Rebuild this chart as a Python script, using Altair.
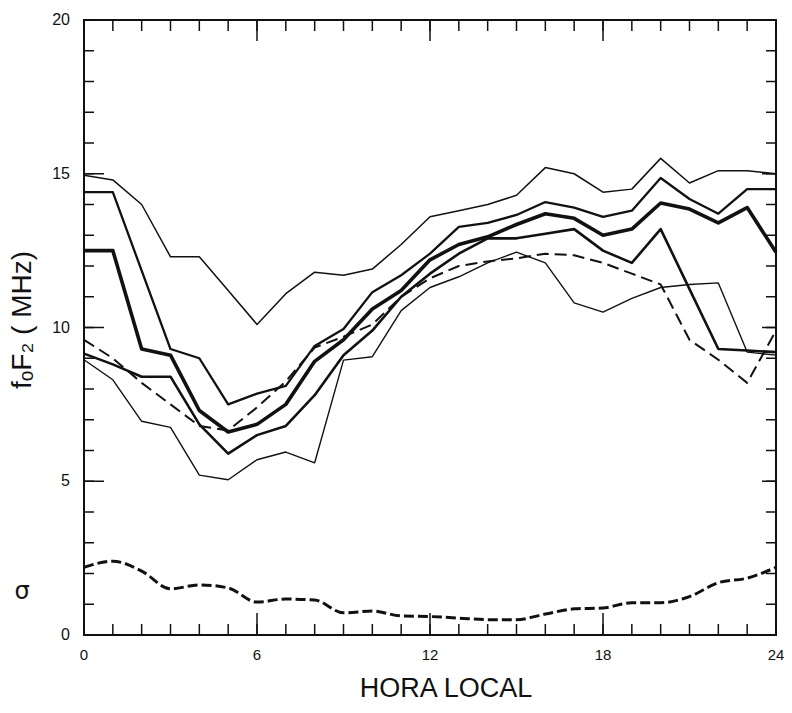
import altair as alt
import pandas as pd

# ---- data ----
hours = list(range(25))

line_a = [14.95, 14.8, 14.0, 12.3, 12.3, 11.2, 10.1, 11.1, 11.8, 11.7, 11.9, 12.7, 13.6,
          13.8, 14.0, 14.3, 15.2, 15.0, 14.4, 14.5, 15.5, 14.7, 15.1, 15.1, 15.0]
line_b = [14.4, 14.4, 11.85, 9.3, 9.0, 7.5, 7.85, 8.1, 9.4, 9.95, 11.15, 11.7, 12.4,
          13.27, 13.4, 13.66, 14.08, 13.9, 13.6, 13.8, 14.86, 14.18, 13.7, 14.5, 14.5]
line_c = [12.5, 12.5, 9.3, 9.1, 7.3, 6.6, 6.85, 7.5, 8.9, 9.6, 10.6, 11.2, 12.2,
          12.7, 12.95, 13.35, 13.7, 13.55, 13.0, 13.2, 14.05, 13.85, 13.4, 13.9, 12.45]
line_d = [9.15, 8.8, 8.4, 8.4, 6.85, 5.9, 6.5, 6.8, 7.8, 9.1, 9.9, 11.0, 11.75,
          12.4, 12.9, 12.9, 13.05, 13.2, 12.5, 12.1, 13.2, 11.25, 9.3, 9.25, 9.2]
line_e = [9.6, 9.0, 8.2, 7.5, 6.8, 6.65, 7.4, 8.25, 9.35, 9.7, 10.1, 11.0, 11.6,
          12.0, 12.15, 12.25, 12.4, 12.35, 12.1, 11.75, 11.4, 9.6, 8.95, 8.2, 9.9]
line_f = [8.95, 8.3, 6.95, 6.75, 5.2, 5.05, 5.7, 5.95, 5.6, 8.94, 9.05, 10.55, 11.3,
          11.65, 12.1, 12.45, 12.1, 10.8, 10.5, 10.95, 11.3, 11.4, 11.45, 9.2, 9.1]
sigma = [2.2, 2.4, 2.08, 1.5, 1.63, 1.53, 1.07, 1.17, 1.14, 0.72, 0.78, 0.62, 0.6,
         0.55, 0.5, 0.5, 0.68, 0.85, 0.88, 1.05, 1.05, 1.25, 1.7, 1.85, 2.2]

x_label_values = [0, 6, 12, 18, 24]
y_label_values = [0, 5, 10, 15, 20]
tick_hours = list(range(25))
major_hours = [6, 12, 18]
tick_vals = list(range(21))
major_vals = [5, 10, 15]

W, H = 692, 615
FONT = "Liberation Sans"
XTITLE = "HORA LOCAL"
YTITLE = "fₒF₂ ( MHz)"
INK = "#111"

xs = alt.Scale(domain=[0, 24], nice=False, zero=False)
ys = alt.Scale(domain=[0, 20], nice=False)


def series(vals, width, dash=None, interp="linear"):
    df = pd.DataFrame({"hora": hours, "val": vals})
    kw = dict(color=INK, strokeWidth=width, interpolate=interp, strokeJoin="round")
    if dash:
        kw["strokeDash"] = dash
    return alt.Chart(df).mark_line(**kw).encode(
        x=alt.X("hora:Q", scale=xs, axis=None),
        y=alt.Y("val:Q", scale=ys, axis=None),
    )


def hticks(vals, y0, y1, w=1.5):
    return alt.Chart(pd.DataFrame({"h": vals})).mark_rule(color=INK, strokeWidth=w).encode(
        x=alt.X("h:Q", scale=xs, axis=None),
        y=alt.value(y0), y2=alt.value(y1))


def vticks(vals, x0, x1, w=1.5):
    return alt.Chart(pd.DataFrame({"v": vals})).mark_rule(color=INK, strokeWidth=w).encode(
        y=alt.Y("v:Q", scale=ys, axis=None),
        x=alt.value(x0), x2=alt.value(x1))


x_labels = alt.Chart(pd.DataFrame({"h": x_label_values})).mark_text(
    font=FONT, fontSize=15, color=INK, baseline="top", align="center").encode(
    x=alt.X("h:Q", scale=xs, axis=None),
    y=alt.value(H + 13),
    text=alt.Text("h:Q", format="d"))

y_labels = alt.Chart(pd.DataFrame({"v": y_label_values})).mark_text(
    font=FONT, fontSize=16, color=INK, baseline="middle", align="right").encode(
    y=alt.Y("v:Q", scale=ys, axis=None),
    x=alt.value(-14),
    text=alt.Text("v:Q", format="d"))

x_title = alt.Chart(pd.DataFrame({"t": [XTITLE]})).mark_text(
    font=FONT, fontSize=27, color=INK, baseline="alphabetic", align="center").encode(
    x=alt.value(362), y=alt.value(H + 62), text="t:N")

y_title = alt.Chart(pd.DataFrame({"t": [YTITLE]})).mark_text(
    font=FONT, fontSize=28, color=INK, baseline="middle", align="center", angle=270).encode(
    x=alt.value(-61), y=alt.value(300), text="t:N")

sigma_label = alt.Chart(pd.DataFrame({"t": ["σ"]})).mark_text(
    fontSize=24, font="DejaVu Sans", color=INK).encode(
    x=alt.value(-62), y=alt.value(572), text="t:N")

layers = [
    series(line_a, 1.5),
    series(line_b, 2.3),
    series(line_c, 3.6),
    series(line_d, 2.6),
    series(line_e, 2.0, dash=[12, 6]),
    series(line_f, 1.4),
    series(sigma, 3.0, dash=[10, 4], interp="monotone"),
    hticks(tick_hours, H, H - 11),
    hticks(major_hours, H, H - 22),
    hticks(tick_hours, 0, 11),
    hticks(major_hours, 0, 21),
    vticks(tick_vals, 0, 10),
    vticks(major_vals, 0, 20),
    vticks(tick_vals, W, W - 10),
    vticks(major_vals, W, W - 14),
    x_labels,
    y_labels,
    x_title,
    y_title,
    sigma_label,
]

chart = alt.layer(*layers).properties(
    width=W, height=H,
    padding={"left": 76, "top": 12, "right": 8, "bottom": 70},
    autosize=alt.AutoSizeParams(type="none"),
    background="white",
).configure_view(stroke=INK, strokeWidth=2)

chart.save("out.html", embed_options={"renderer": "svg", "actions": False})
